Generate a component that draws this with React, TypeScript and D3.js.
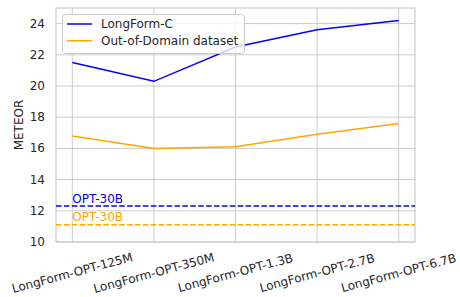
import * as d3 from 'd3'
import React from 'react'

// models on the x axis
const models = [
  'LongForm-OPT-125M',
  'LongForm-OPT-350M',
  'LongForm-OPT-1.3B',
  'LongForm-OPT-2.7B',
  'LongForm-OPT-6.7B',
]
const longformC = [21.5, 20.3, 22.5, 23.6, 24.2]
const outOfDomain = [16.8, 16.0, 16.1, 16.9, 17.6]
// OPT-30B baselines
const opt30bLongformC = 12.3
const opt30bOutOfDomain = 11.1
const yTicks = [10, 12, 14, 16, 18, 20, 22, 24]

const W = 460
const H = 297
const left = 56
const right = 415
const top = 8
const bottom = 242
const font = 'DejaVu Sans, sans-serif'
const fs = 12
const textColor = '#262626'
const gridColor = '#cccccc'

export default function App() {
  const x = d3
    .scalePoint<string>()
    .domain(models)
    .range([left, right])
    .padding(0.2)
  const y = d3.scaleLinear().domain([10, 25]).range([bottom, top])

  const line = d3
    .line<number>()
    .x((_, i) => x(models[i]) as number)
    .y((d) => y(d))

  const series = [
    { name: 'LongForm-C', values: longformC, color: 'blue', base: opt30bLongformC },
    { name: 'Out-of-Domain dataset', values: outOfDomain, color: 'orange', base: opt30bOutOfDomain },
  ]

  return (
    <svg
      width={W}
      height={H}
      style={{ position: 'absolute', left: 0, top: 0, background: '#fff' }}
      fontFamily={font}
    >
      {/* grid */}
      {yTicks.map((t) => (
        <line key={'gy' + t} x1={left} x2={right} y1={y(t)} y2={y(t)} stroke={gridColor} strokeWidth={1} />
      ))}
      {models.map((m) => (
        <line key={'gx' + m} x1={x(m)} x2={x(m)} y1={top} y2={bottom} stroke={gridColor} strokeWidth={1} />
      ))}
      <rect x={left} y={top} width={right - left} height={bottom - top} fill="none" stroke={gridColor} strokeWidth={1.2} />

      {/* baselines */}
      {series.map((s) => (
        <g key={'b' + s.name}>
          <line
            x1={left}
            x2={right}
            y1={y(s.base)}
            y2={y(s.base)}
            stroke={s.color}
            strokeWidth={1.5}
            strokeDasharray="5.5,2.4"
          />
          <text x={x(models[0])} y={y(s.base) - 3.5} fill={s.color} fontSize={fs}>
            OPT-30B
          </text>
        </g>
      ))}

      {/* lines */}
      {series.map((s) => (
        <path key={s.name} d={line(s.values) ?? ''} fill="none" stroke={s.color} strokeWidth={1.5} />
      ))}

      {/* y ticks */}
      {yTicks.map((t) => (
        <text
          key={'ty' + t}
          x={left - 11}
          y={y(t)}
          textAnchor="end"
          dominantBaseline="central"
          fontSize={fs}
          fill={textColor}
        >
          {t}
        </text>
      ))}
      <text
        transform={`translate(19,${(top + bottom) / 2}) rotate(-90)`}
        textAnchor="middle"
        dominantBaseline="central"
        fontSize={fs}
        fill={textColor}
      >
        METEOR
      </text>

      {/* x ticks */}
      {models.map((m) => (
        <text
          key={'tx' + m}
          transform={`translate(${x(m)},273) rotate(-15)`}
          textAnchor="middle"
          dominantBaseline="central"
          fontSize={fs}
          fill={textColor}
        >
          {m}
        </text>
      ))}

      {/* legend */}
      <rect x={62.5} y={14.5} width={182} height={39} rx={3} fill="#fff" fillOpacity={0.8} stroke={gridColor} strokeWidth={1} />
      {series.map((s, i) => (
        <g key={'l' + s.name} transform={`translate(0,${24 + i * 16.7})`}>
          <line x1={67} x2={92} y1={0} y2={0} stroke={s.color} strokeWidth={1.5} />
          <text x={101} y={0} dominantBaseline="central" fontSize={fs} fill={textColor}>
            {s.name}
          </text>
        </g>
      ))}
    </svg>
  )
}
